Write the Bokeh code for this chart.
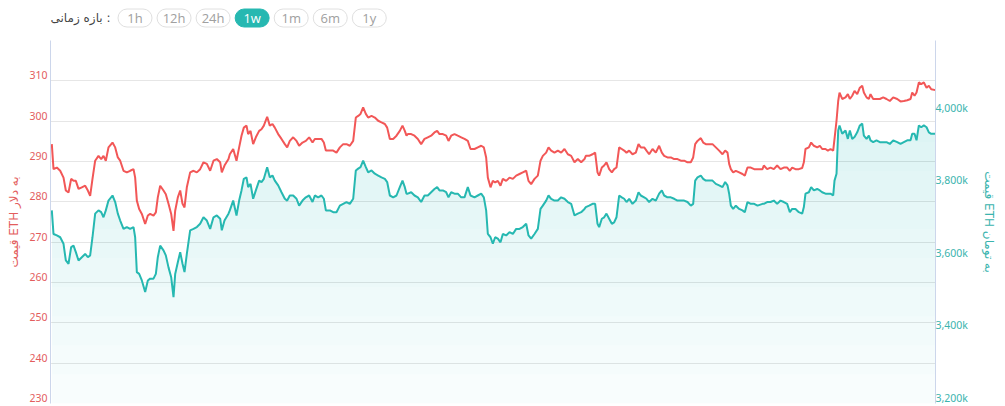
import numpy as np
from bokeh.plotting import figure
from bokeh.models import Range1d, LinearAxis, FixedTicker, Grid, ColumnDataSource, CustomJSTickFormatter
from bokeh.layouts import column
from bokeh.embed import file_html
from bokeh.resources import INLINE
from bokeh.core.properties import value

# ---------------- data (one week, hours from start) ----------------
hours = [
    0.25, 0.57, 1.20, 1.84, 2.47, 2.91, 3.42, 3.92, 4.37, 4.81, 5.32, 5.95, 6.58, 7.09, 7.53, 7.97,
    8.48, 9.11, 9.62, 10.06, 10.50, 11.01, 11.77, 12.28, 12.78, 13.23, 13.86, 14.49, 15.12, 15.76,
    16.07, 16.39, 16.83, 17.34, 17.97, 18.48, 18.92, 19.55, 20.00, 20.37, 20.82, 21.45, 21.89, 22.40,
    22.91, 23.35, 23.67, 24.17, 24.62, 25.06, 25.44, 25.88, 26.51, 27.15, 27.78, 28.41, 29.04, 29.68,
    30.31, 30.94, 31.57, 32.21, 32.52, 33.03, 33.79,
    34.04, 34.68, 35.31, 35.81, 36.26, 36.70, 37.21, 37.52, 37.97, 38.47, 38.98, 39.61, 40.05, 40.50,
    41.13, 41.63, 42.14, 42.58, 43.22, 43.85, 44.48, 44.93, 45.43, 46.07, 46.70, 47.20, 47.84, 48.47,
    49.10, 49.74, 50.18, 50.81, 51.44, 51.89, 52.27, 53.03, 53.66, 54.29, 54.93, 55.56, 56.19, 56.82,
    57.46, 57.96, 58.41, 58.85, 59.35, 59.86, 60.30, 60.94, 61.57, 62.20, 62.83, 63.47, 63.91, 64.42,
    65.05, 65.68, 66.31, 66.82, 67.26, 67.58,
    67.83, 68.47, 69.10, 69.73, 70.36, 71.00, 71.63, 72.26, 72.89, 73.40, 73.84, 74.48, 75.11, 75.55,
    76.06, 76.69, 77.32, 77.96, 78.59, 79.22, 79.73, 80.49, 81.12, 81.76, 82.26, 82.70, 83.02, 83.53,
    83.97, 84.41, 84.92, 85.42, 85.87, 86.50, 87.13, 87.77, 88.40, 89.03, 89.66, 90.30, 90.74, 91.24,
    91.88, 92.51, 93.02, 93.46, 94.09, 94.54, 95.04, 95.67, 96.31, 96.94, 97.57, 98.21, 98.84, 99.47,
    100.10, 100.74, 101.37,
    101.62, 102.25, 102.89, 103.39, 103.84, 104.15, 104.66, 105.10, 105.54, 106.05, 106.56, 107.00,
    107.44, 107.95, 108.45, 108.90, 109.34, 109.85, 110.48, 111.11, 111.62, 112.06, 112.70, 113.14,
    113.64, 114.28, 114.91, 115.54, 116.05, 116.49, 117.12, 117.76, 118.39, 119.02, 119.66, 120.29,
    120.92, 121.55, 122.00, 122.38, 122.82, 123.45, 123.90, 124.40, 125.03, 125.67, 126.30, 126.93,
    127.57, 128.07, 128.52, 128.83, 129.15, 129.59, 130.10, 130.73, 131.36, 131.80, 132.31, 132.94,
    133.58, 134.21, 135.16,
    135.41, 136.04, 136.68, 137.31, 137.94, 138.58, 139.21, 139.84, 140.35, 140.79, 141.42, 142.06,
    142.69, 143.01, 143.32, 143.96, 144.40, 144.91, 145.54, 146.05, 146.49, 147.12, 147.57, 148.07,
    148.58, 148.83, 149.21, 149.53, 149.78, 150.29, 150.92, 151.36, 151.74, 152.19, 152.63, 153.14,
    153.64, 154.09, 154.40, 154.91, 155.35, 155.66, 156.17, 156.80, 157.44, 158.07, 158.70, 159.33,
    159.97, 160.73, 161.36, 161.99, 162.63, 163.26, 163.58, 164.02, 164.40, 164.84, 165.29, 165.79,
    166.30, 166.74, 167.19, 168.00,
]

eth_usd = [
    294.3, 288.1, 288.5, 287.7, 286.0, 282.8, 282.3, 285.7, 285.2, 285.2, 283.2, 283.6, 284.0, 282.8,
    281.5, 285.7, 290.2, 291.4, 290.6, 291.4, 290.2, 293.5, 294.7, 293.5, 291.0, 290.2, 287.7, 287.3,
    287.7, 288.1, 286.0, 280.3, 278.2, 277.0, 274.5, 276.6, 277.0, 276.6, 277.4, 281.1, 284.0, 282.8,
    281.9, 279.5, 277.0, 272.8, 277.8, 281.1, 282.8, 279.5, 278.6, 283.6, 287.3, 287.7, 287.3, 288.1,
    289.8, 289.4, 287.7, 290.2, 290.6, 289.8, 287.3, 289.0, 290.6,
    291.8, 293.1, 290.2, 293.5, 296.4, 298.4, 298.9, 296.8, 297.6, 294.3, 296.0, 297.6, 298.0, 298.9,
    301.1, 298.9, 299.3, 298.4, 296.8, 295.6, 294.3, 293.5, 295.1, 296.0, 295.1, 293.9, 294.7, 295.1,
    296.0, 294.7, 295.6, 295.6, 295.6, 294.7, 292.7, 292.7, 292.7, 292.2, 293.5, 294.3, 294.3, 293.9,
    295.1, 300.9, 301.3, 301.8, 303.4, 301.8, 300.9, 301.3, 300.9, 300.1, 299.7, 299.3, 298.4, 295.6,
    295.6, 296.4, 297.6, 298.9, 297.6, 296.4,
    296.8, 296.8, 296.4, 295.6, 294.3, 295.6, 296.0, 296.4, 297.2, 297.6, 296.8, 296.8, 296.4, 295.1,
    296.4, 296.8, 296.4, 296.0, 295.6, 295.1, 293.1, 293.1, 293.5, 293.9, 293.5, 291.0, 286.0, 283.6,
    285.2, 284.8, 285.2, 284.0, 285.7, 285.2, 286.0, 285.7, 286.5, 286.9, 287.3, 287.7, 285.2, 284.4,
    285.7, 286.5, 290.2, 291.4, 292.2, 293.5, 292.7, 292.2, 292.7, 292.2, 293.1, 291.8, 291.4, 289.8,
    290.6, 289.8, 290.6,
    291.4, 291.4, 291.8, 292.2, 287.3, 286.5, 288.5, 289.0, 289.8, 288.1, 287.3, 288.1, 288.5, 293.5,
    293.1, 292.7, 292.2, 292.7, 291.8, 292.2, 294.3, 293.5, 293.5, 292.7, 291.8, 293.1, 292.2, 293.9,
    292.2, 291.4, 291.0, 291.0, 290.6, 290.6, 290.2, 290.2, 289.8, 289.8, 291.0, 294.3, 295.1, 295.8,
    294.7, 294.3, 294.3, 294.3, 293.5, 292.7, 291.8, 292.7, 292.2, 289.4, 288.1, 287.3, 287.7, 287.3,
    286.9, 286.5, 288.5, 288.5, 288.1, 288.1, 288.1,
    289.0, 288.1, 288.5, 288.1, 289.0, 288.1, 288.5, 288.5, 287.7, 288.5, 288.1, 288.1, 288.4, 289.8,
    293.1, 293.5, 294.7, 293.9, 293.5, 293.9, 293.1, 293.1, 292.7, 293.1, 292.7, 295.6, 300.1, 305.0,
    307.1, 305.5, 305.9, 306.7, 305.5, 306.3, 307.5, 306.7, 308.3, 308.8, 307.1, 305.9, 305.5, 306.7,
    305.5, 305.5, 305.5, 305.9, 305.5, 305.0, 305.9, 305.5, 304.9, 305.0, 305.2, 305.5, 307.1, 306.3,
    307.1, 309.6, 309.2, 309.6, 308.3, 308.8, 307.9, 307.7,
]

# thousands of toman
eth_toman_k = [
    3732, 3667, 3663, 3658, 3640, 3594, 3585, 3631, 3635, 3617, 3594, 3603, 3612, 3603, 3608, 3658,
    3723, 3732, 3727, 3713, 3732, 3759, 3773, 3755, 3723, 3704, 3681, 3686, 3681, 3686, 3658, 3562,
    3557, 3539, 3507, 3539, 3544, 3544, 3557, 3603, 3635, 3622, 3608, 3575, 3548, 3493, 3557, 3589,
    3617, 3585, 3562, 3612, 3677, 3681, 3686, 3695, 3713, 3704, 3681, 3713, 3718, 3709, 3677, 3704,
    3723,
    3732, 3759, 3718, 3759, 3787, 3819, 3823, 3796, 3805, 3764, 3787, 3814, 3810, 3819, 3851, 3823,
    3828, 3814, 3801, 3782, 3764, 3759, 3773, 3773, 3764, 3745, 3759, 3768, 3773, 3755, 3773, 3768,
    3773, 3764, 3732, 3732, 3727, 3727, 3745, 3750, 3755, 3750, 3764, 3842, 3847, 3851, 3869, 3851,
    3837, 3842, 3833, 3828, 3823, 3819, 3810, 3773, 3768, 3773, 3796, 3814, 3796, 3778,
    3778, 3782, 3773, 3768, 3755, 3773, 3773, 3782, 3791, 3796, 3787, 3787, 3782, 3768, 3782, 3778,
    3778, 3768, 3768, 3796, 3773, 3768, 3773, 3778, 3768, 3732, 3667, 3658, 3640, 3658, 3654, 3644,
    3667, 3663, 3672, 3667, 3681, 3681, 3686, 3695, 3663, 3654, 3667, 3681, 3736, 3745, 3759, 3773,
    3764, 3759, 3759, 3768, 3764, 3755, 3750, 3718, 3723, 3727, 3736,
    3741, 3745, 3750, 3750, 3695, 3686, 3709, 3713, 3723, 3709, 3695, 3699, 3713, 3773, 3768, 3764,
    3755, 3764, 3750, 3759, 3782, 3773, 3768, 3764, 3755, 3764, 3759, 3778, 3787, 3773, 3768, 3768,
    3764, 3759, 3759, 3759, 3755, 3745, 3750, 3814, 3823, 3828, 3819, 3814, 3814, 3814, 3805, 3801,
    3796, 3810, 3801, 3778, 3745, 3736, 3745, 3736, 3732, 3727, 3755, 3750, 3750, 3745, 3750,
    3750, 3755, 3755, 3759, 3750, 3759, 3755, 3750, 3727, 3736, 3736, 3727, 3723, 3741, 3778, 3782,
    3796, 3787, 3791, 3787, 3782, 3778, 3778, 3778, 3773, 3814, 3833, 3952, 3966, 3943, 3952, 3929,
    3952, 3929, 3934, 3947, 3966, 3971, 3938, 3929, 3938, 3925, 3920, 3925, 3920, 3920, 3920, 3915,
    3925, 3920, 3915, 3920, 3925, 3925, 3943, 3943, 3925, 3966, 3961, 3966, 3961, 3947, 3943, 3943,
]

usd_ticks = [230, 240, 250, 260, 270, 280, 290, 300, 310]
usd_grid = [230, 240, 250, 260, 270, 280, 290, 300, 310, 320]
toman_ticks = [3200, 3400, 3600, 3800, 4000]
range_buttons = ["1h", "12h", "24h", "1w", "1m", "6m", "1y"]
active_button = "1w"
period_label = "بازه زمانی :"
left_title = "قیمت ETH به دلار"
right_title = "قیمت ETH به تومان"

# ---------------- styles / layout ----------------
RED = "#f25757"
RED_TXT = "#e35d5d"
TEAL = "#26b8b1"
TEAL_TXT = "#3bb4ae"
AXIS_LINE = "#ccd6eb"
GRID = "#e6e6e6"

W = 1005
TOP_H = 40
H = 366
BORDER_L, BORDER_R, BORDER_B = 50, 70, 3
FRAME_H = H - BORDER_B
USD_LO, USD_HI = 230, 320
TMN_LO, TMN_HI = 3200, 4200
LABEL_LIFT_PX = 5.5
o1 = LABEL_LIFT_PX * (USD_HI - USD_LO) / FRAME_H
o2 = LABEL_LIFT_PX * (TMN_HI - TMN_LO) / FRAME_H

# ---------------- top bar with range buttons ----------------
top = figure(width=W, height=TOP_H, output_backend="svg", toolbar_location=None,
             x_range=Range1d(BORDER_L, W - BORDER_R), y_range=Range1d(TOP_H, 0),
             x_axis_location=None, y_axis_location=None,
             min_border_left=BORDER_L, min_border_right=BORDER_R, min_border_top=0, min_border_bottom=0)
top.outline_line_color = None
top.xgrid.visible = False
top.ygrid.visible = False
top.background_fill_color = "white"
top.border_fill_color = "white"

n = len(range_buttons)
cx = [134.5 + i * 39.05 for i in range(n)]
fills = [TEAL if b == active_button else "white" for b in range_buttons]
lines = [TEAL if b == active_button else "#e0e0e0" for b in range_buttons]
tcols = ["white" if b == active_button else "#a0a0a0" for b in range_buttons]
top.quad(left=[c - 17 for c in cx], right=[c + 17 for c in cx],
         top=[8.5] * n, bottom=[26.5] * n, fill_color=fills, line_color=lines,
         line_width=1, border_radius=9)
top.text(x=cx, y=[17.3] * n, text=range_buttons, text_align="center", text_baseline="middle",
         text_font=value("Open Sans"), text_font_size="13px", text_color=tcols)
top.text(x=[110], y=[17.3], text=[period_label], text_align="right", text_baseline="middle",
         text_font=value("DejaVu Sans"), text_font_size="12px", text_color="#444444")

# ---------------- main chart ----------------
p = figure(width=W, height=H, output_backend="svg", toolbar_location=None,
           x_range=Range1d(0, 168), y_range=Range1d(USD_LO, USD_HI),
           x_axis_location=None, y_axis_location=None,
           min_border_left=BORDER_L, min_border_right=BORDER_R, min_border_top=0,
           min_border_bottom=BORDER_B)
p.outline_line_color = None
p.background_fill_color = "white"
p.border_fill_color = "white"
p.xgrid.visible = False
p.ygrid.visible = False
p.extra_y_ranges = {
    "toman": Range1d(TMN_LO, TMN_HI),
    "usd_lab": Range1d(USD_LO - o1, USD_HI - o1),
    "toman_lab": Range1d(TMN_LO - o2, TMN_HI - o2),
}
p.add_layout(Grid(dimension=1, ticker=FixedTicker(ticks=usd_grid),
                  grid_line_color=GRID, grid_line_width=1))

ly = LinearAxis(y_range_name="usd_lab", ticker=FixedTicker(ticks=usd_ticks), axis_label=left_title)
ry = LinearAxis(y_range_name="toman_lab", ticker=FixedTicker(ticks=toman_ticks), axis_label=right_title,
                formatter=CustomJSTickFormatter(code="return tick.toLocaleString('en-US') + 'k';"))
for ax, col, lab_stand, title_stand in ((ly, RED_TXT, 3, 5), (ry, TEAL_TXT, 0, 11)):
    ax.axis_line_color = AXIS_LINE
    ax.axis_line_width = 1
    ax.major_tick_line_color = None
    ax.minor_tick_line_color = None
    ax.major_tick_out = 0
    ax.major_tick_in = 0
    ax.major_label_text_color = col
    ax.major_label_text_font = "Noto Sans"
    ax.major_label_text_font_size = "10.5px"
    ax.major_label_standoff = lab_stand
    ax.axis_label_text_color = col
    ax.axis_label_text_font = "DejaVu Sans"
    ax.axis_label_text_font_size = "12px"
    ax.axis_label_text_font_style = "normal"
    ax.axis_label_standoff = title_stand
p.add_layout(ly, "left")
p.add_layout(ry, "right")

h_arr = np.array(hours)
t_arr = np.array(eth_toman_k, dtype=float)

# soft vertical gradient under the toman line (stacked translucent layers)
p.varea(x=h_arr, y1=t_arr, y2=np.full_like(t_arr, TMN_LO), y_range_name="toman",
        fill_color=TEAL, fill_alpha=0.03)
for lvl in range(TMN_LO + 80, 4000, 80):
    p.varea(x=h_arr, y1=np.maximum(t_arr, lvl), y2=np.full_like(t_arr, lvl), y_range_name="toman",
            fill_color=TEAL, fill_alpha=0.012)

src = ColumnDataSource(dict(h=hours, usd=eth_usd, tmn=eth_toman_k))
p.line("h", "tmn", source=src, y_range_name="toman", line_color=TEAL, line_width=2)
p.line("h", "usd", source=src, line_color=RED, line_width=2)

layout = column(top, p, spacing=0)
open("out.html", "w").write(file_html(layout, INLINE))
